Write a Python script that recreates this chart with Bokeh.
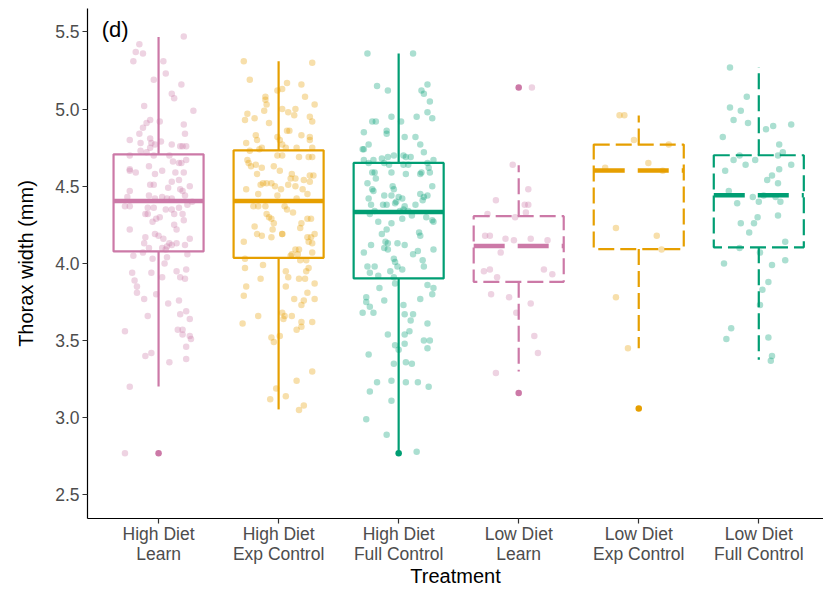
from bokeh.plotting import figure
from bokeh.models import Range1d, FixedTicker, NumeralTickFormatter, Label
from bokeh.embed import file_html
from bokeh.resources import INLINE

# Treatments, in axis order
treatments = ["High Diet\nLearn", "High Diet\nExp Control", "High Diet\nFull Control",
              "Low Diet\nLearn", "Low Diet\nExp Control", "Low Diet\nFull Control"]
colours = ["#CC79A7", "#E69F00", "#009E73", "#CC79A7", "#E69F00", "#009E73"]
low_diet = [False, False, False, True, True, True]

# Box-plot statistics per treatment (mm)
q1 = [4.078, 4.036, 3.903, 3.881, 4.093, 4.104]
median = [4.405, 4.405, 4.333, 4.113, 4.602, 4.442]
q3 = [4.707, 4.733, 4.651, 4.306, 4.770, 4.701]
whisker_lo = [3.202, 3.054, 2.775, 3.299, 3.451, 3.375]
whisker_hi = [5.468, 5.310, 5.360, 4.636, 4.959, 5.273]

# Outlying individuals: treatment index and thorax width
outlier_group = [0, 2, 3, 3, 4]
outlier_width = [2.77, 2.77, 5.14, 3.16, 3.06]

# Individual measurements: (horizontal jitter, thorax width in mm)
high_learn = [
    (0.21, 5.47), (-0.16, 5.42), (-0.19, 5.37), (-0.13, 5.36), (-0.21, 5.31), (0.04, 5.31),
    (0.06, 5.23), (-0.04, 5.19), (0.19, 5.16), (0.11, 5.10), (0.13, 5.07), (-0.12, 5.02),
    (0.29, 4.99), (-0.07, 4.93), (-0.10, 4.91), (0.01, 4.92), (-0.13, 4.88), (0.21, 4.90),
    (0.22, 4.84), (-0.16, 4.84), (-0.24, 4.80), (-0.07, 4.81), (-0.06, 4.78), (-0.15, 4.78),
    (0.02, 4.79), (-0.07, 4.75), (-0.03, 4.77), (0.11, 4.77), (0.18, 4.76), (0.20, 4.76),
    (0.23, 4.76), (-0.15, 4.73), (-0.10, 4.72), (-0.24, 4.70), (-0.04, 4.70), (0.09, 4.70),
    (0.23, 4.67), (0.12, 4.66), (0.17, 4.65), (0.19, 4.65), (-0.08, 4.63), (-0.24, 4.61),
    (-0.19, 4.59), (-0.24, 4.60), (0.03, 4.60), (-0.03, 4.58), (0.14, 4.59), (0.21, 4.59),
    (0.11, 4.53), (0.17, 4.54), (-0.07, 4.51), (-0.04, 4.51), (0.08, 4.49), (0.26, 4.50),
    (-0.24, 4.47), (0.18, 4.48), (0.20, 4.47), (0.22, 4.44), (-0.26, 4.43), (0.03, 4.43),
    (0.07, 4.42), (0.11, 4.42), (-0.03, 4.42), (-0.08, 4.44), (-0.28, 4.37), (-0.24, 4.37),
    (0.24, 4.38), (0.28, 4.40), (-0.09, 4.36), (-0.04, 4.36), (0.06, 4.35), (0.11, 4.35),
    (0.17, 4.36), (-0.11, 4.32), (-0.09, 4.32), (-0.02, 4.29), (0.01, 4.30), (0.13, 4.32),
    (0.20, 4.32), (-0.05, 4.27), (0.21, 4.28), (0.13, 4.25), (-0.24, 4.22), (0.15, 4.22),
    (-0.03, 4.19), (0.00, 4.18), (0.04, 4.16), (-0.11, 4.17), (-0.12, 4.13), (0.09, 4.13),
    (0.15, 4.13), (0.26, 4.16), (0.07, 4.11), (0.11, 4.12), (0.22, 4.12), (-0.08, 4.10),
    (0.03, 4.10), (0.06, 4.09), (-0.13, 4.07), (0.24, 4.06), (-0.21, 4.05), (-0.05, 4.03),
    (0.07, 4.04), (0.05, 4.00), (-0.22, 3.94), (-0.06, 3.94), (0.03, 3.91), (0.15, 3.95),
    (0.23, 3.96), (-0.20, 3.89), (-0.18, 3.85), (0.18, 3.91), (0.22, 3.90), (-0.18, 3.81),
    (-0.12, 3.77), (-0.02, 3.80), (0.08, 3.74), (0.17, 3.76), (-0.09, 3.66), (0.18, 3.67),
    (0.23, 3.69), (0.26, 3.64), (-0.28, 3.56), (0.16, 3.57), (0.20, 3.57), (0.20, 3.54),
    (0.26, 3.53), (0.27, 3.51), (0.23, 3.46), (-0.11, 3.40), (-0.06, 3.42), (0.09, 3.36),
    (0.23, 3.38), (-0.24, 3.20), (-0.28, 2.77),
]
high_exp = [
    (-0.29, 5.31), (0.28, 5.30), (-0.24, 5.19), (0.07, 5.17), (0.19, 5.16), (0.03, 5.13),
    (-0.01, 5.12), (-0.11, 5.08), (-0.11, 5.06), (0.22, 5.08), (-0.10, 5.03), (0.30, 5.03),
    (0.03, 5.00), (0.08, 4.98), (0.14, 5.00), (0.13, 4.96), (-0.12, 4.99), (-0.26, 4.97),
    (-0.28, 4.93), (-0.20, 4.94), (0.26, 4.95), (0.28, 4.92), (-0.08, 4.91), (0.07, 4.86),
    (0.09, 4.86), (-0.19, 4.83), (-0.18, 4.80), (-0.01, 4.82), (0.01, 4.80), (0.19, 4.83),
    (0.26, 4.82), (0.26, 4.80), (-0.27, 4.78), (0.03, 4.77), (0.06, 4.75), (0.15, 4.75),
    (-0.14, 4.75), (0.28, 4.75), (-0.24, 4.73), (-0.16, 4.74), (-0.01, 4.70), (0.03, 4.70),
    (0.17, 4.69), (0.25, 4.69), (0.28, 4.69), (-0.26, 4.67), (-0.25, 4.65), (-0.23, 4.63),
    (-0.19, 4.64), (-0.14, 4.62), (-0.04, 4.63), (0.01, 4.60), (-0.18, 4.58), (0.11, 4.58),
    (0.10, 4.55), (0.14, 4.55), (0.21, 4.54), (0.26, 4.57), (0.29, 4.57), (0.26, 4.53),
    (-0.15, 4.51), (-0.13, 4.52), (-0.10, 4.52), (-0.06, 4.52), (-0.03, 4.50), (0.08, 4.51),
    (0.14, 4.50), (-0.27, 4.48), (0.02, 4.48), (0.20, 4.48), (-0.17, 4.45), (-0.01, 4.44),
    (0.15, 4.42), (0.24, 4.45), (-0.21, 4.37), (-0.17, 4.37), (-0.11, 4.37), (0.05, 4.37),
    (0.07, 4.35), (0.12, 4.33), (-0.10, 4.32), (-0.08, 4.30), (-0.06, 4.29), (-0.04, 4.26),
    (-0.05, 4.22), (-0.20, 4.24), (0.24, 4.29), (0.27, 4.29), (0.19, 4.26), (0.18, 4.23),
    (-0.18, 4.19), (-0.14, 4.18), (-0.06, 4.17), (0.03, 4.19), (0.03, 4.19), (0.24, 4.17),
    (0.27, 4.17), (0.30, 4.19), (-0.29, 4.14), (0.25, 4.14), (0.28, 4.13), (0.14, 4.09),
    (0.17, 4.09), (0.11, 4.06), (0.16, 4.06), (0.10, 4.05), (0.28, 4.07), (-0.28, 4.03),
    (0.18, 4.02), (0.23, 4.02), (-0.28, 3.97), (-0.13, 3.99), (0.06, 3.95), (0.08, 3.91),
    (0.25, 3.97), (0.23, 3.95), (-0.15, 3.90), (0.17, 3.90), (0.22, 3.90), (0.06, 3.85),
    (-0.27, 3.85), (0.30, 3.87), (0.24, 3.81), (-0.29, 3.79), (0.13, 3.77), (0.21, 3.76),
    (0.30, 3.77), (0.19, 3.73), (0.03, 3.68), (0.05, 3.66), (0.04, 3.64), (0.11, 3.66),
    (-0.17, 3.66), (-0.30, 3.61), (0.19, 3.62), (0.28, 3.62), (0.19, 3.59), (0.15, 3.57),
    (-0.06, 3.52), (0.01, 3.53), (-0.04, 3.49), (0.28, 3.30), (0.15, 3.24), (-0.02, 3.19),
    (-0.07, 3.12), (0.06, 3.14), (0.21, 3.08), (0.17, 3.05),
]
high_full = [
    (-0.26, 5.36), (0.12, 5.36), (-0.18, 5.15), (-0.09, 5.12), (0.24, 5.16), (0.19, 5.12),
    (0.21, 5.10), (0.26, 5.05), (0.24, 4.98), (0.28, 4.94), (-0.22, 4.92), (-0.19, 4.92),
    (-0.06, 4.95), (0.02, 4.92), (0.15, 4.95), (-0.29, 4.85), (-0.10, 4.86), (-0.10, 4.84),
    (0.05, 4.82), (0.14, 4.82), (0.18, 4.77), (-0.25, 4.77), (-0.29, 4.74), (-0.30, 4.74),
    (0.21, 4.72), (-0.09, 4.69), (-0.04, 4.70), (0.04, 4.70), (0.06, 4.69), (0.10, 4.69),
    (-0.14, 4.68), (-0.29, 4.67), (-0.21, 4.67), (0.29, 4.67), (-0.25, 4.65), (-0.12, 4.65),
    (-0.08, 4.64), (0.04, 4.64), (0.08, 4.64), (0.24, 4.65), (0.25, 4.62), (0.26, 4.59),
    (-0.22, 4.59), (-0.20, 4.59), (-0.06, 4.59), (0.06, 4.58), (0.18, 4.58), (0.19, 4.59),
    (-0.19, 4.55), (-0.26, 4.52), (-0.22, 4.48), (-0.21, 4.47), (-0.05, 4.50), (-0.04, 4.48),
    (0.28, 4.50), (-0.12, 4.44), (-0.06, 4.44), (0.00, 4.43), (0.03, 4.42), (-0.03, 4.39),
    (-0.02, 4.40), (0.18, 4.45), (0.21, 4.43), (0.24, 4.44), (0.20, 4.41), (-0.25, 4.42),
    (-0.23, 4.38), (-0.13, 4.38), (-0.10, 4.38), (0.05, 4.37), (0.14, 4.38), (0.01, 4.34),
    (0.04, 4.35), (0.08, 4.34), (0.11, 4.31), (-0.20, 4.34), (-0.24, 4.32), (0.03, 4.29),
    (0.23, 4.30), (0.28, 4.28), (0.29, 4.27), (-0.17, 4.27), (-0.06, 4.26), (-0.10, 4.22),
    (-0.14, 4.19), (0.17, 4.20), (0.18, 4.18), (-0.23, 4.12), (-0.11, 4.14), (-0.09, 4.13),
    (-0.01, 4.13), (0.05, 4.12), (-0.12, 4.10), (-0.09, 4.09), (0.12, 4.06), (0.16, 4.08),
    (0.29, 4.09), (-0.29, 4.07), (-0.04, 4.03), (-0.03, 4.01), (0.20, 4.02), (-0.26, 3.98),
    (-0.20, 3.98), (-0.24, 3.94), (-0.17, 3.92), (-0.07, 3.95), (-0.01, 3.98), (0.03, 3.96),
    (0.21, 3.98), (-0.04, 3.91), (-0.03, 3.87), (-0.16, 3.84), (0.24, 3.86), (0.29, 3.84),
    (0.28, 3.80), (0.18, 3.77), (-0.27, 3.78), (-0.27, 3.75), (-0.12, 3.76), (-0.24, 3.72),
    (-0.30, 3.68), (-0.21, 3.68), (0.04, 3.73), (0.05, 3.67), (0.12, 3.67), (0.10, 3.63),
    (0.24, 3.61), (-0.09, 3.54), (0.05, 3.54), (0.09, 3.56), (0.21, 3.50), (0.26, 3.50),
    (-0.03, 3.47), (0.05, 3.48), (0.00, 3.44), (0.24, 3.45), (-0.25, 3.41), (-0.04, 3.35),
    (0.06, 3.36), (0.11, 3.35), (-0.18, 3.23), (-0.06, 3.24), (0.06, 3.23), (0.16, 3.23),
    (0.25, 3.20), (-0.24, 3.17), (-0.06, 3.11), (-0.27, 2.99), (-0.10, 2.89), (0.15, 2.78),
]
low_learn = [
    (0.11, 5.14), (-0.05, 4.64), (0.08, 4.48), (-0.19, 4.41), (0.05, 4.38), (0.08, 4.38),
    (0.06, 4.33), (-0.26, 4.32), (-0.03, 4.30), (-0.28, 4.18), (-0.24, 4.18), (-0.11, 4.16),
    (-0.04, 4.15), (0.10, 4.16), (0.24, 4.15), (-0.15, 4.07), (-0.29, 3.95), (-0.24, 3.96),
    (-0.18, 3.91), (0.21, 3.96), (0.28, 3.93), (-0.23, 3.80), (-0.08, 3.78), (-0.02, 3.68),
    (0.10, 3.74), (0.13, 3.53), (0.16, 3.42), (-0.19, 3.29),
]
low_exp = [
    (-0.16, 4.96), (-0.12, 4.96), (-0.04, 4.80), (0.25, 4.77), (-0.28, 4.62), (0.08, 4.65),
    (0.20, 4.60), (-0.19, 4.23), (0.15, 4.18), (0.19, 4.09), (-0.19, 3.78), (-0.09, 3.45),
]
low_full = [
    (-0.24, 5.27), (-0.10, 5.08), (-0.24, 5.01), (-0.15, 4.99), (-0.21, 4.93), (-0.09, 4.91),
    (0.06, 4.87), (0.12, 4.89), (0.27, 4.90), (-0.30, 4.82), (0.17, 4.77), (0.20, 4.72),
    (0.16, 4.70), (-0.16, 4.70), (-0.21, 4.67), (-0.11, 4.64), (-0.03, 4.67), (-0.28, 4.60),
    (0.17, 4.61), (0.27, 4.64), (0.11, 4.57), (0.07, 4.54), (0.16, 4.52), (-0.25, 4.47),
    (-0.18, 4.39), (-0.05, 4.43), (0.00, 4.40), (0.04, 4.44), (0.14, 4.43), (0.18, 4.40),
    (-0.01, 4.30), (-0.04, 4.26), (-0.15, 4.26), (0.16, 4.31), (-0.08, 4.20), (0.22, 4.14),
    (-0.16, 4.10), (0.01, 4.07), (-0.29, 4.00), (0.11, 3.99), (0.22, 4.02), (0.08, 3.88),
    (0.03, 3.83), (0.01, 3.73), (-0.23, 3.58), (-0.27, 3.51), (0.08, 3.52), (0.11, 3.40),
    (0.10, 3.37),
]
measurements = [high_learn, high_exp, high_full, low_learn, low_exp, low_full]

FONT = "Liberation Sans"
BOX_WIDTH = 0.75

p = figure(width=823, height=590, output_backend="svg", toolbar_location=None,
           x_range=Range1d(0.408, 6.539), y_range=Range1d(2.347, 5.652),
           min_border_left=87, min_border_right=0, min_border_top=8, min_border_bottom=72,
           background_fill_color="white", border_fill_color="white")
p.outline_line_color = None
p.xgrid.visible = False
p.ygrid.visible = False

positions = list(range(1, len(treatments) + 1))

# Boxes, whiskers and medians; the low-diet treatments are drawn dashed
for dashed in (False, True):
    idx = [i for i in range(len(treatments)) if low_diet[i] == dashed]
    xs = [positions[i] for i in idx]
    data = dict(
        x=xs,
        left=[x - BOX_WIDTH / 2 for x in xs],
        right=[x + BOX_WIDTH / 2 for x in xs],
        q1=[q1[i] for i in idx],
        q3=[q3[i] for i in idx],
        med=[median[i] for i in idx],
        lo=[whisker_lo[i] for i in idx],
        hi=[whisker_hi[i] for i in idx],
        colour=[colours[i] for i in idx],
    )
    dash = "16 6" if dashed else "solid"
    med_dash = "31 13" if dashed else "solid"
    p.segment(x0="x", y0="q3", x1="x", y1="hi", source=data, line_color="colour",
              line_width=2.2, line_dash=dash)
    p.segment(x0="x", y0="q1", x1="x", y1="lo", source=data, line_color="colour",
              line_width=2.2, line_dash=dash)
    p.quad(left="left", right="right", bottom="q1", top="q3", source=data,
           fill_color=None, line_color="colour", line_width=2.2, line_dash=dash)
    p.segment(x0="left", y0="med", x1="right", y1="med", source=data, line_color="colour",
              line_width=4.4, line_dash=med_dash)

# Outliers in full colour
p.scatter(x=[positions[g] for g in outlier_group], y=outlier_width,
          fill_color=[colours[g] for g in outlier_group], line_color=None, size=6.5)

# Jittered individual measurements
px, py, pc = [], [], []
for i, group in enumerate(measurements):
    for dx, w in group:
        px.append(positions[i] + dx)
        py.append(w)
        pc.append(colours[i])
p.scatter(x=px, y=py, fill_color=pc, fill_alpha=0.33, line_color=None, size=6.5)

# Axes
for ax in (p.xaxis[0], p.yaxis[0]):
    ax.axis_line_color = "black"
    ax.axis_line_width = 1.2
    ax.major_tick_line_color = "#333333"
    ax.major_tick_line_width = 1.2
    ax.major_tick_out = 5
    ax.major_tick_in = 0
    ax.minor_tick_line_color = None
    ax.major_label_text_font = FONT
    ax.major_label_text_font_size = "17.5px"
    ax.major_label_text_color = "#4D4D4D"
    ax.axis_label_text_font = FONT
    ax.axis_label_text_font_size = "20px"
    ax.axis_label_text_font_style = "normal"
    ax.axis_label_text_color = "black"

p.yaxis.ticker = FixedTicker(ticks=[2.5, 3.0, 3.5, 4.0, 4.5, 5.0, 5.5])
p.yaxis.formatter = NumeralTickFormatter(format="0.0")
p.yaxis.axis_label = "Thorax width (mm)"
p.yaxis.major_label_standoff = 3
p.yaxis.axis_label_standoff = 15

p.xaxis.ticker = FixedTicker(ticks=positions)
p.xaxis.major_label_overrides = {pos: name for pos, name in zip(positions, treatments)}
p.xaxis.major_label_standoff = 0
p.xaxis.major_label_text_line_height = 1.0
p.xaxis.axis_label = "Treatment"
p.xaxis.axis_label_standoff = -2
p.xaxis.axis_label_text_line_height = 1.0

# Panel tag
p.add_layout(Label(x=0.526, y=5.518, text="(d)", text_font=FONT, text_font_size="22px",
                   text_color="black", text_baseline="alphabetic"))

open("out.html", "w").write(file_html(p, INLINE))
